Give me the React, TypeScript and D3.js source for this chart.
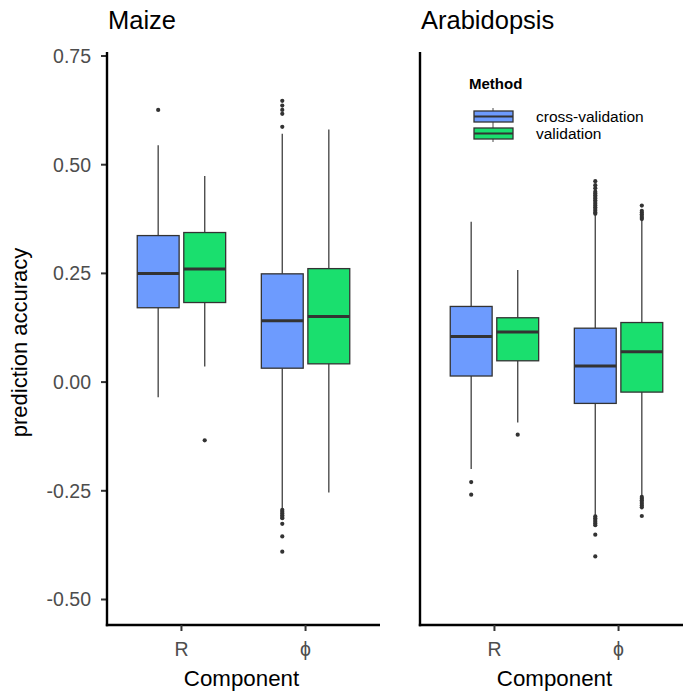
import React from "react";
import { scaleLinear, scalePoint, scaleBand } from "d3";

// categories
const species = ["Maize", "Arabidopsis"];
const components = ["R", "ϕ"];
const methods = ["cross-validation", "validation"];
const yTicks = [0.75, 0.5, 0.25, 0, -0.25, -0.5];

// box stats per component: [lower whisker, q1, median, q3, upper whisker]
const maizeCrossValidation = [
  [-0.035, 0.171, 0.25, 0.337, 0.545],
  [-0.292, 0.032, 0.141, 0.249, 0.571],
];
const maizeValidation = [
  [0.036, 0.183, 0.26, 0.344, 0.474],
  [-0.254, 0.042, 0.151, 0.261, 0.581],
];
const arabCrossValidation = [
  [-0.2, 0.014, 0.105, 0.174, 0.369],
  [-0.308, -0.049, 0.037, 0.124, 0.384],
];
const arabValidation = [
  [-0.093, 0.049, 0.115, 0.148, 0.258],
  [-0.262, -0.023, 0.07, 0.137, 0.373],
];

// outliers per component
const maizeCrossValidationOut = [
  [0.626],
  [0.647, 0.636, 0.626, 0.617, 0.587, -0.294, -0.298, -0.302, -0.306, -0.31, -0.313, -0.326, -0.355, -0.39],
];
const maizeValidationOut = [[-0.134], []];
const arabCrossValidationOut = [
  [-0.23, -0.259],
  [
    0.462, 0.453, 0.446, 0.438, 0.434, 0.43, 0.426, 0.422, 0.418, 0.414, 0.41, 0.406, 0.402, 0.398, 0.394, 0.39, 0.387,
    -0.309, -0.313, -0.317, -0.321, -0.325, -0.329, -0.351, -0.401,
  ],
];
const arabValidationOut = [
  [-0.121],
  [0.406, 0.394, 0.39, 0.386, 0.382, 0.378, 0.375, -0.264, -0.268, -0.272, -0.276, -0.28, -0.284, -0.288, -0.308],
];

const stats = [
  [maizeCrossValidation, maizeValidation],
  [arabCrossValidation, arabValidation],
];
const outliers = [
  [maizeCrossValidationOut, maizeValidationOut],
  [arabCrossValidationOut, arabValidationOut],
];

const colors = ["#6D9BFE", "#1ADF6E"];
const FONT = "'Liberation Sans', Arial, Helvetica, sans-serif";

const W = 683;
const H = 693;
const panelTop = 52;
const panelBottom = 625;
const panelLefts = [107, 420];
const panelWidth = 273;

export default function App() {
  const y = scaleLinear().domain([-0.5, 0.75]).range([599.5, 56]);

  return (
    <div style={{ position: "absolute", left: 0, top: 0 }}>
      <svg width={W} height={H} viewBox={`0 0 ${W} ${H}`} style={{ display: "block", fontFamily: FONT }}>
        <rect width={W} height={H} fill="white" />

        {/* y title */}
        <text
          transform={`translate(27,${(panelTop + panelBottom) / 2 + 4}) rotate(-90)`}
          textAnchor="middle"
          fontSize={22}
          fill="#000"
        >
          prediction accuracy
        </text>

        {/* y tick labels (first panel only) */}
        {yTicks.map((t) => (
          <g key={t}>
            <text x={91} y={y(t)} dy="0.35em" textAnchor="end" fontSize={19.5} fill="#4D4D4D">
              {t.toFixed(2)}
            </text>
            <line x1={101} x2={107} y1={y(t)} y2={y(t)} stroke="#333" strokeWidth={2} />
          </g>
        ))}

        {species.map((sp, si) => {
          const left = panelLefts[si];
          const x = scalePoint<string>()
            .domain(components)
            .range([left, left + panelWidth])
            .padding(0.6);
          const step = x.step();
          const xm = scaleBand<string>()
            .domain(methods)
            .range([-0.375 * step, 0.375 * step])
            .paddingInner(0.1)
            .paddingOuter(0.05);
          const bw = xm.bandwidth();

          return (
            <g key={sp}>
              <text x={left + 1} y={29} fontSize={25.5} fill="#000">
                {sp}
              </text>

              {components.map((c, ci) =>
                methods.map((m, mi) => {
                  const [lo, q1, med, q3, hi] = stats[si][mi][ci];
                  const cx = x(c)! + xm(m)! + bw / 2;
                  const bx = x(c)! + xm(m)!;
                  return (
                    <g key={c + m}>
                      <line x1={cx} x2={cx} y1={y(hi)} y2={y(q3)} stroke="#4D4D4D" strokeWidth={1.4} />
                      <line x1={cx} x2={cx} y1={y(q1)} y2={y(lo)} stroke="#4D4D4D" strokeWidth={1.4} />
                      <rect
                        x={bx}
                        y={y(q3)}
                        width={bw}
                        height={y(q1) - y(q3)}
                        fill={colors[mi]}
                        stroke="#333"
                        strokeWidth={1.3}
                      />
                      <line x1={bx} x2={bx + bw} y1={y(med)} y2={y(med)} stroke="#333" strokeWidth={3} />
                      {outliers[si][mi][ci].map((v, k) => (
                        <circle key={k} cx={cx} cy={y(v)} r={2.1} fill="#333" />
                      ))}
                    </g>
                  );
                })
              )}

              {/* axes */}
              <line x1={left} x2={left} y1={panelTop} y2={panelBottom + 1.2} stroke="#000" strokeWidth={2.4} />
              <line x1={left - 1.2} x2={left + panelWidth} y1={panelBottom} y2={panelBottom} stroke="#000" strokeWidth={2.4} />
              {components.map((c) => (
                <g key={c}>
                  <line x1={x(c)!} x2={x(c)!} y1={panelBottom} y2={panelBottom + 6} stroke="#333" strokeWidth={2} />
                  <text x={x(c)!} y={656} textAnchor="middle" fontSize={19.5} fill="#4D4D4D">
                    {c}
                  </text>
                </g>
              ))}
              <text x={left + panelWidth / 2 - 2} y={686} textAnchor="middle" fontSize={22.3} fill="#000">
                Component
              </text>
            </g>
          );
        })}

        {/* legend */}
        <g>
          <text x={469} y={89} fontSize={15} fontWeight="bold" fill="#000">
            Method
          </text>
          {methods.map((m, i) => {
            const ky = 108 + i * 17;
            return (
              <g key={m}>
                <line x1={493} x2={493} y1={ky} y2={ky + 17} stroke="#4D4D4D" strokeWidth={1} />
                <rect x={474} y={ky + 3} width={39} height={11} fill={colors[i]} stroke="#333" strokeWidth={1.3} />
                <line x1={474} x2={513} y1={ky + 8.5} y2={ky + 8.5} stroke="#333" strokeWidth={2.2} />
                <text x={536} y={ky + 8.5} dy="0.35em" fontSize={15.5} fill="#000">
                  {m}
                </text>
              </g>
            );
          })}
        </g>
      </svg>
    </div>
  );
}
